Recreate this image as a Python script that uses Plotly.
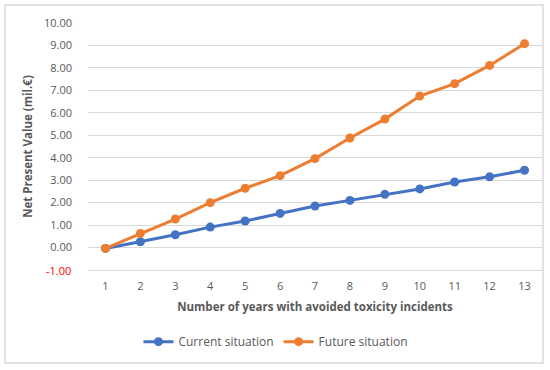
import plotly.graph_objects as go

years = list(range(1, 14))
current = [-0.04, 0.26, 0.57, 0.91, 1.18, 1.52, 1.85, 2.10, 2.37, 2.61, 2.92, 3.15, 3.44]
future = [-0.04, 0.63, 1.27, 2.00, 2.64, 3.20, 3.96, 4.88, 5.72, 6.75, 7.30, 8.11, 9.08]
ytick_vals = [-1, 0, 1, 2, 3, 4, 5, 6, 7, 8, 9, 10]
ytick_text = [""] + [f"{v:.2f}" for v in ytick_vals[1:]]

font_family = "Open Sans, Liberation Sans, sans-serif"
grey = "#595959"

fig = go.Figure()
fig.add_trace(go.Scatter(x=years, y=current, mode="lines+markers", name="Current situation",
                         line=dict(color="#4472C4", width=3), marker=dict(size=9, color="#4472C4")))
fig.add_trace(go.Scatter(x=years, y=future, mode="lines+markers", name="Future situation",
                         line=dict(color="#ED7D31", width=3), marker=dict(size=9, color="#ED7D31")))

fig.update_layout(
    width=550, height=370,
    margin=dict(l=88, r=8, t=23, b=100),
    paper_bgcolor="white", plot_bgcolor="white",
    font=dict(family=font_family, color=grey, size=11),
    showlegend=True,
    legend=dict(orientation="h", x=0.414, xanchor="center", y=-0.29, yanchor="middle",
                font=dict(size=12, color=grey), itemwidth=30),
    xaxis=dict(range=[0.5, 13.5], tickvals=years, showgrid=False, zeroline=False,
               showline=True, linecolor="#D9D9D9", linewidth=1, ticks="", ticklabelstandoff=6,
               title=dict(text="<b>Number of years with avoided toxicity incidents</b>",
                          font=dict(size=11.5, color=grey), standoff=10)),
    yaxis=dict(range=[-1, 10], tickvals=ytick_vals, ticktext=ytick_text, showgrid=True,
               gridcolor="#D9D9D9", gridwidth=1, zeroline=False, showline=False, ticks="",
               ticklabelstandoff=15,
               title=dict(text="<b>Net Present Value (mil.€)</b>", font=dict(size=11.5, color=grey),
                          standoff=8)),
    annotations=[dict(text="-1.00", xref="paper", yref="y", x=0, y=ytick_vals[0],
                      xanchor="right", yanchor="middle", xshift=-15, showarrow=False,
                      font=dict(size=11, color="#FF0000", family=font_family))],
    shapes=[dict(type="rect", xref="paper", yref="paper", x0=-0.1828, x1=1.0022, y0=-0.3765, y1=1.0729,
                 line=dict(color="#D9D9D9", width=1.5), fillcolor="rgba(0,0,0,0)", layer="below")],
)

fig.write_html("out.html", config={"displayModeBar": False},
               post_script="document.body.style.margin='0';")
